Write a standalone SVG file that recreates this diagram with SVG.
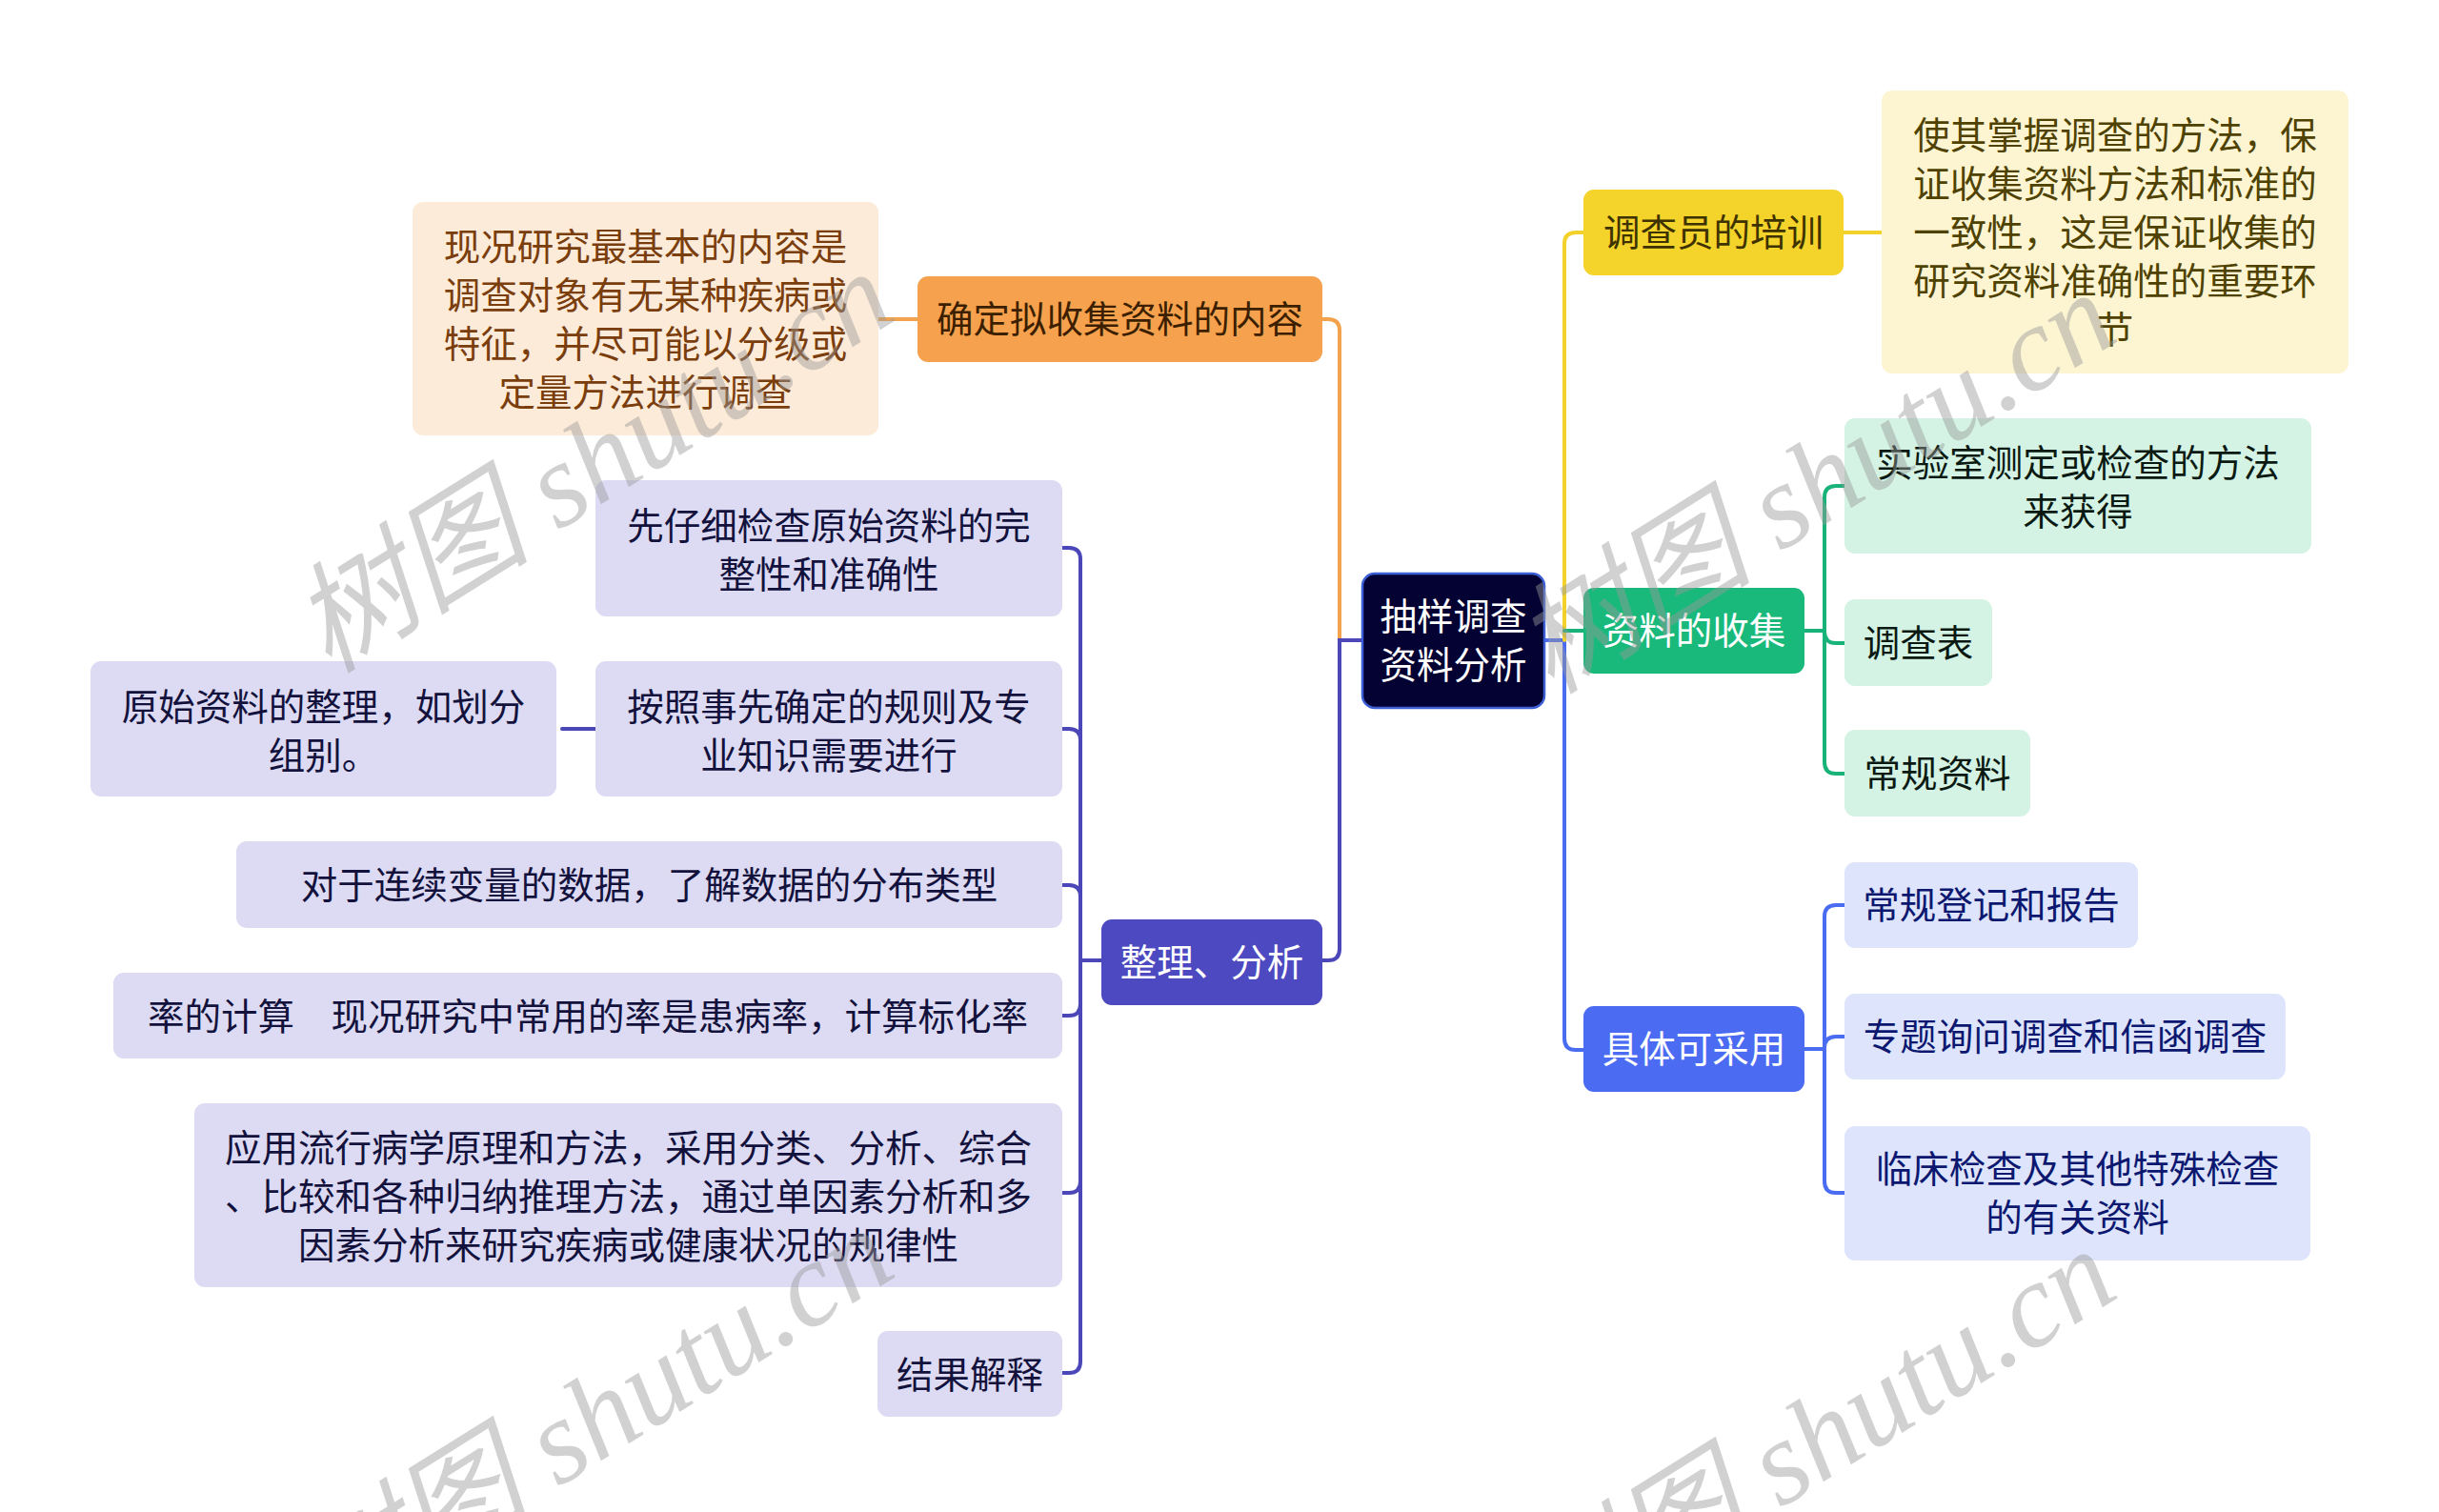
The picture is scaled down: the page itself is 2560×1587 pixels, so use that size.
<svg xmlns="http://www.w3.org/2000/svg" width="2560" height="1587" viewBox="0 0 2560 1587">
<style>
text{font-family:"Noto Sans CJK SC","Noto Sans",sans-serif;font-size:38.5px;text-anchor:middle}
.c{fill:none;stroke-width:4;stroke-linecap:round}
.or{stroke:#f3a24d}.in{stroke:#4b47b9}.bl{stroke:#4a6cf0}.ye{stroke:#f2d12a}.gr{stroke:#19b37a}
.wm{font-family:"Liberation Serif","Noto Sans CJK SC",serif;font-style:italic;font-size:126px;fill:#9a9a9a;fill-opacity:0.45;text-anchor:start}
</style>
<rect width="2560" height="1587" fill="#ffffff"/>
<g id="connectors">
<path class="c or" d="M1406,674 V347 Q1406,335 1394,335 H1380"/>
<path class="c or" d="M970,335 H915"/>
<path class="c in" d="M1432,672 H1406 V996 Q1406,1008 1394,1008 H1380"/>
<path class="c in" d="M1160,1008 H1134 V587 Q1134,575 1122,575 H1108"/>
<path class="c in" d="M1160,1008 H1134 V777 Q1134,765 1122,765 H1108"/>
<path class="c in" d="M1160,1008 H1134 V941 Q1134,929 1122,929 H1108"/>
<path class="c in" d="M1160,1008 H1134 V1054 Q1134,1066 1122,1066 H1108"/>
<path class="c in" d="M1160,1008 H1134 V1240 Q1134,1252 1122,1252 H1108"/>
<path class="c in" d="M1160,1008 H1134 V1429 Q1134,1441 1122,1441 H1108"/>
<path class="c in" d="M590,765 H630"/>
<path class="c bl" d="M1615,672 H1642 V1090 Q1642,1102 1654,1102 H1670"/>
<path class="c ye" d="M1642,672 V256 Q1642,244 1654,244 H1670"/>
<path class="c ye" d="M1930,244 H1980"/>
<path class="c gr" d="M1642,662 H1670"/>
<path class="c gr" d="M1890,662 H1915 V522 Q1915,510 1927,510 H1942"/>
<path class="c gr" d="M1890,662 H1915 V663 Q1915,675 1927,675 H1942"/>
<path class="c gr" d="M1890,662 H1915 V800 Q1915,812 1927,812 H1942"/>
<path class="c bl" d="M1890,1101 H1915 V962 Q1915,950 1927,950 H1942"/>
<path class="c bl" d="M1890,1101 H1915 V1100 Q1915,1088 1927,1088 H1942"/>
<path class="c bl" d="M1890,1101 H1915 V1240 Q1915,1252 1927,1252 H1942"/>
</g>
<g id="root">
<rect x="1430" y="602" width="191" height="141" rx="13" fill="#040233" stroke="#3d5fd5" stroke-width="2.5"/>
<text fill="#ffffff"><tspan x="1525.5" y="661">抽样调查</tspan><tspan x="1525.5" y="712">资料分析</tspan></text>
</g>
<g id="n-content">
<rect x="963" y="290" width="425" height="90" rx="11" fill="#f5a14d"/>
<text x="1175.5" y="349" fill="#3c1f00">确定拟收集资料的内容</text>
</g>
<g id="n-content-leaf">
<rect x="433" y="212" width="489" height="245" rx="11" fill="#fdebd9"/>
<text fill="#7a3d0c"><tspan x="677.5" y="272.5">现况研究最基本的内容是</tspan><tspan x="677.5" y="323.5">调查对象有无某种疾病或</tspan><tspan x="677.5" y="374.5">特征，并尽可能以分级或</tspan><tspan x="677.5" y="425.5">定量方法进行调查</tspan></text>
</g>
<g id="n-analysis">
<rect x="1156" y="965" width="232" height="90" rx="11" fill="#4d49c0"/>
<text x="1272" y="1024" fill="#ffffff">整理、分析</text>
</g>
<g id="a1">
<rect x="625" y="504" width="490" height="143" rx="11" fill="#dddbf4"/>
<text fill="#13123d"><tspan x="870" y="566">先仔细检查原始资料的完</tspan><tspan x="870" y="617">整性和准确性</tspan></text>
</g>
<g id="a2">
<rect x="625" y="694" width="490" height="142" rx="11" fill="#dddbf4"/>
<text fill="#13123d"><tspan x="870" y="755.5">按照事先确定的规则及专</tspan><tspan x="870" y="806.5">业知识需要进行</tspan></text>
</g>
<g id="a2-1">
<rect x="95" y="694" width="489" height="142" rx="11" fill="#dddbf4"/>
<text fill="#13123d"><tspan x="339.5" y="755.5">原始资料的整理，如划分</tspan><tspan x="339.5" y="806.5">组别。</tspan></text>
</g>
<g id="a3">
<rect x="248" y="883" width="867" height="91" rx="11" fill="#dddbf4"/>
<text x="681.5" y="943" fill="#13123d">对于连续变量的数据，了解数据的分布类型</text>
</g>
<g id="a4">
<rect x="119" y="1021" width="996" height="90" rx="11" fill="#dddbf4"/>
<text x="617" y="1081" fill="#13123d">率的计算　现况研究中常用的率是患病率，计算标化率</text>
</g>
<g id="a5">
<rect x="204" y="1158" width="911" height="193" rx="11" fill="#dddbf4"/>
<text fill="#13123d"><tspan x="659.5" y="1219">应用流行病学原理和方法，采用分类、分析、综合</tspan><tspan x="659.5" y="1270">、比较和各种归纳推理方法，通过单因素分析和多</tspan><tspan x="659.5" y="1321">因素分析来研究疾病或健康状况的规律性</tspan></text>
</g>
<g id="a6">
<rect x="921" y="1397" width="194" height="90" rx="11" fill="#dddbf4"/>
<text x="1018" y="1457" fill="#13123d">结果解释</text>
</g>
<g id="n-training">
<rect x="1662" y="199" width="273" height="90" rx="11" fill="#f4d32a"/>
<text x="1798.5" y="258" fill="#3d3200">调查员的培训</text>
</g>
<g id="n-training-leaf">
<rect x="1975" y="95" width="490" height="297" rx="11" fill="#fdf5d1"/>
<text fill="#4f4200"><tspan x="2220" y="155.5">使其掌握调查的方法，保</tspan><tspan x="2220" y="206.5">证收集资料方法和标准的</tspan><tspan x="2220" y="257.5">一致性，这是保证收集的</tspan><tspan x="2220" y="308.5">研究资料准确性的重要环</tspan><tspan x="2220" y="359.5">节</tspan></text>
</g>
<g id="n-collect">
<rect x="1662" y="617" width="232" height="90" rx="11" fill="#19b97c"/>
<text x="1778" y="676" fill="#ffffff">资料的收集</text>
</g>
<g id="c1">
<rect x="1936" y="439" width="490" height="142" rx="11" fill="#d4f3e4"/>
<text fill="#0a1a12"><tspan x="2181" y="499.5">实验室测定或检查的方法</tspan><tspan x="2181" y="550.5">来获得</tspan></text>
</g>
<g id="c2">
<rect x="1936" y="629" width="155" height="91" rx="11" fill="#d4f3e4"/>
<text x="2013.5" y="689" fill="#0a1a12">调查表</text>
</g>
<g id="c3">
<rect x="1936" y="766" width="195" height="91" rx="11" fill="#d4f3e4"/>
<text x="2033.5" y="826" fill="#0a1a12">常规资料</text>
</g>
<g id="n-methods">
<rect x="1662" y="1056" width="232" height="90" rx="11" fill="#4b6cf2"/>
<text x="1778" y="1115" fill="#ffffff">具体可采用</text>
</g>
<g id="m1">
<rect x="1936" y="905" width="308" height="90" rx="11" fill="#dde4fb"/>
<text x="2090" y="964" fill="#0c1870">常规登记和报告</text>
</g>
<g id="m2">
<rect x="1936" y="1043" width="463" height="90" rx="11" fill="#dde4fb"/>
<text x="2167.5" y="1102" fill="#0c1870">专题询问调查和信函调查</text>
</g>
<g id="m3">
<rect x="1936" y="1182" width="489" height="141" rx="11" fill="#dde4fb"/>
<text fill="#0c1870"><tspan x="2180.5" y="1241">临床检查及其他特殊检查</tspan><tspan x="2180.5" y="1292">的有关资料</tspan></text>
</g>
<g id="watermarks">
<text class="wm" transform="translate(345,708) rotate(-32)">树图 shutu.cn</text>
<text class="wm" transform="translate(1628,730) rotate(-32)">树图 shutu.cn</text>
<text class="wm" transform="translate(345,1712) rotate(-32)">树图 shutu.cn</text>
<text class="wm" transform="translate(1628,1734) rotate(-32)">树图 shutu.cn</text>
</g>
</svg>
